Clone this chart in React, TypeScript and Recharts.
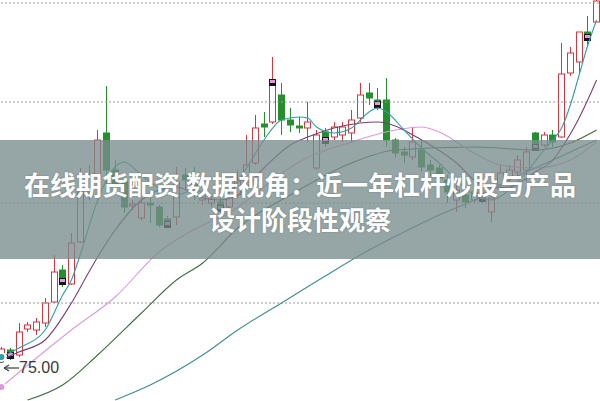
import React from 'react';
import { ComposedChart, Bar, Line, XAxis, YAxis, ReferenceLine } from 'recharts';

// Daily candles (price units), index 0..68
const openP = [75.3, 76.0, 75.5, 78.1, 78.0, 78.7, 80.8, 84.0, 82.6, 86.8, 91.8, 93.5, 97.7, 94.0, 92.8, 90.4, 89.2, 90.7, 90.3, 89.1, 89.3, 93.5, 92.7, 91.0, 90.7, 90.8, 90.3, 91.5, 92.8, 94.7, 98.6, 98.8, 101.5, 99.0, 98.4, 98.2, 94.2, 97.8, 97.3, 97.5, 97.7, 99.2, 101.7, 101.0, 101.0, 97.0, 95.8, 95.3, 96.0, 94.5, 94.2, 93.0, 91.0, 91.5, 91.0, 91.7, 89.8, 92.5, 93.2, 93.8, 94.0, 97.7, 96.5, 97.5, 97.3, 103.7, 104.8, 107.8, 108.8];
const closeP = [76.1, 75.5, 77.8, 78.5, 78.8, 80.7, 83.8, 82.9, 86.7, 91.8, 93.5, 97.0, 94.0, 92.5, 90.3, 90.6, 90.7, 90.5, 88.5, 88.6, 92.8, 93.0, 92.2, 91.4, 91.1, 90.2, 91.5, 93.0, 94.5, 98.2, 98.3, 102.8, 99.0, 98.5, 98.2, 98.8, 97.5, 97.0, 98.3, 98.3, 99.0, 101.5, 101.2, 100.6, 97.0, 95.7, 95.5, 96.8, 94.3, 94.0, 93.2, 91.8, 92.0, 90.8, 91.8, 91.2, 91.2, 93.7, 94.0, 95.0, 95.8, 96.3, 97.5, 96.8, 103.6, 105.7, 107.8, 107.3, 110.9];
const highP = [76.3, 76.2, 78.7, 78.8, 79.2, 81.2, 85.5, 84.5, 87.7, 94.2, 94.5, 98.0, 102.4, 95.0, 93.3, 91.0, 91.2, 91.2, 90.5, 89.4, 94.3, 94.2, 94.3, 91.8, 91.4, 91.2, 92.0, 94.0, 97.5, 99.5, 99.8, 105.3, 102.7, 100.2, 99.3, 100.8, 98.0, 98.2, 98.8, 98.8, 100.0, 102.7, 102.7, 102.2, 103.2, 97.2, 96.3, 98.3, 97.0, 95.0, 94.5, 93.5, 92.5, 92.2, 92.5, 92.0, 92.0, 94.5, 94.5, 95.5, 96.3, 97.8, 97.8, 98.0, 106.7, 106.3, 107.8, 109.4, 111.5];
const lowP = [75.1, 75.0, 75.3, 77.8, 77.5, 78.3, 80.7, 82.3, 82.5, 86.7, 91.0, 93.0, 92.0, 91.7, 89.7, 90.0, 89.0, 88.7, 88.3, 88.4, 88.5, 92.0, 91.0, 90.5, 90.3, 89.6, 89.8, 91.2, 92.5, 94.5, 97.3, 98.6, 97.5, 97.8, 97.7, 96.8, 94.0, 96.3, 97.0, 96.8, 96.7, 98.8, 100.5, 100.0, 96.3, 95.3, 94.7, 95.0, 93.8, 93.4, 92.7, 90.7, 89.8, 90.2, 90.7, 90.7, 88.8, 92.0, 92.5, 93.2, 92.8, 96.0, 96.3, 96.3, 97.2, 103.4, 103.7, 106.3, 108.8];

// candles carrying the small square marker
const markIdx = [1, 7, 19, 25, 31, 37, 43, 55, 61, 67];

// moving averages: [candle index, value]
const ma5Pts: [number, number][] = [[0, 75.3], [2, 76.2], [5, 78.0], [7, 81.5], [8, 83.0], [9, 85.5], [11, 91.0], [12, 93.0], [13, 94.3], [14, 94.8], [16, 93.5], [18, 92.2], [20, 91.5], [22, 92.0], [24, 91.5], [26, 91.8], [28, 94.2], [30, 97.0], [32, 99.0], [34, 99.3], [35, 99.2], [36, 98.3], [38, 97.7], [40, 98.2], [42, 99.8], [43, 100.2], [44, 99.8], [46, 98.0], [48, 96.2], [50, 94.7], [52, 93.0], [54, 91.5], [56, 91.0], [58, 92.0], [60, 93.8], [62, 96.0], [63, 97.0], [64, 98.2], [65, 100.5], [66, 103.5], [67, 106.5], [68, 109.0]];
const ma10Pts: [number, number][] = [[0, 75.0], [2, 75.8], [5, 77.0], [8, 80.7], [10, 83.8], [11, 85.3], [13, 88.0], [16, 91.0], [18, 92.0], [20, 92.3], [23, 91.2], [25, 91.0], [27, 91.5], [30, 94.2], [33, 96.5], [35, 97.3], [38, 98.2], [41, 98.7], [43, 98.8], [45, 98.4], [47, 97.5], [49, 96.5], [52, 94.7], [54, 93.0], [56, 92.2], [58, 92.3], [61, 93.8], [63, 95.0], [64, 96.2], [66, 99.2], [68, 103.0]];
const ma20Pts: [number, number][] = [[0, 72.3], [8, 78.0], [13, 81.3], [18, 85.8], [23, 88.5], [26, 89.7], [31, 93.0], [34, 94.8], [40, 96.8], [45, 98.0], [48, 98.3], [50, 97.8], [54, 95.7], [57, 94.5], [61, 94.2], [65, 95.0], [68, 96.8]];
const ma30Pts: [number, number][] = [[3, 71.0], [7, 72.5], [11, 75.5], [16, 79.7], [20, 83.0], [23, 84.7], [27, 88.2], [33, 91.5], [40, 94.7], [45, 96.0], [54, 96.3], [61, 96.0], [65, 96.7], [68, 98.0]];
const ma60Pts: [number, number][] = [[13, 71.0], [17, 72.5], [23, 75.5], [27, 78.0], [32, 80.7], [37, 83.4], [42, 86.0], [46, 87.8], [50, 89.5], [54, 91.0], [58, 93.0], [63, 95.0], [68, 97.0]];

const gridPrices = [110.7, 100.8, 90.7, 80.7];
const minLabel = '75.00';
const titleLine1 = '在线期货配资 数据视角：近一年杠杆炒股与产品';
const titleLine2 = '设计阶段性观察';

const RED = '#d8353f';
const GREEN = '#23902d';

const data: any[] = openP.map((o, i) => ({
  i,
  o,
  c: closeP[i],
  h: highP[i],
  l: lowP[i],
  mark: markIdx.includes(i),
}));
const addMa = (pts: [number, number][], key: string) => {
  pts.forEach(([idx, v]) => {
    data[idx][key] = v;
  });
};
addMa(ma5Pts, 'ma5');
addMa(ma10Pts, 'ma10');
addMa(ma20Pts, 'ma20');
addMa(ma30Pts, 'ma30');
addMa(ma60Pts, 'ma60');

function Candle(props: any) {
  const { x, y, width, height, payload } = props;
  if (!payload || x == null) return null;
  const { o, c, h, l, mark } = payload;
  const top = Math.min(y, y + height);
  const bot = Math.max(y, y + height);
  const span = h - l || 1;
  const yOf = (p: number) => top + ((h - p) / span) * (bot - top);
  const cx = Math.round(x + width / 2) + 0.5;
  const up = c >= o;
  const color = up ? RED : GREEN;
  const bt = yOf(Math.max(o, c));
  const bb = yOf(Math.min(o, c));
  const bh = Math.max(1, bb - bt);
  const left = cx - width / 2;
  const yc = yOf(c);
  return (
    <g>
      <line x1={cx} x2={cx} y1={top} y2={bot} stroke={color} strokeWidth={1} />
      <rect x={left} y={bt} width={width} height={bh} fill={up ? '#fff' : color} stroke={color} strokeWidth={1} />
      {mark && (
        <g>
          <rect x={cx - 3.5} y={yc - 3} width={7} height={7} fill="#151515" />
          <rect x={cx - 2.5} y={yc - 2} width={5} height={3} fill="#e29be2" />
        </g>
      )}
    </g>
  );
}

export default function App() {
  return (
    <div style={{ position: 'absolute', left: 0, top: 0, width: 600, height: 401, overflow: 'hidden', background: '#fff' }}>
      <div style={{ position: 'absolute', left: -3, top: 0 }}>
        <ComposedChart width={604} height={401} data={data} margin={{ top: 0, right: 0, bottom: 0, left: 0 }}>
          <XAxis dataKey="i" type="category" hide />
          <YAxis hide type="number" domain={[70.9, 111]} allowDataOverflow />
          {gridPrices.map((p) => (
            <ReferenceLine key={p} y={p} stroke="#9a9a9a" strokeDasharray="2 2" strokeWidth={1} />
          ))}
          <Bar dataKey={(d: any) => [d.l, d.h]} barSize={6} shape={(p: any) => <Candle {...p} />} isAnimationActive={false} />
          <Line type="monotone" dataKey="ma60" stroke="#3f8d8d" strokeWidth={1.1} dot={false} connectNulls isAnimationActive={false} />
          <Line type="monotone" dataKey="ma30" stroke="#3d6e3d" strokeWidth={1.1} dot={false} connectNulls isAnimationActive={false} />
          <Line type="monotone" dataKey="ma20" stroke="#dc9adc" strokeWidth={1.1} dot={false} connectNulls isAnimationActive={false} />
          <Line type="monotone" dataKey="ma10" stroke="#7a3f72" strokeWidth={1.1} dot={false} connectNulls isAnimationActive={false} />
          <Line type="monotone" dataKey="ma5" stroke="#2f9fa0" strokeWidth={1.1} dot={false} connectNulls isAnimationActive={false} />
        </ComposedChart>
      </div>
      <div
        style={{
          position: 'absolute',
          left: 3,
          top: 360,
          fontFamily: '"Liberation Sans", Arial, sans-serif',
          fontSize: 16,
          lineHeight: '16px',
          color: '#3a3a3a',
          whiteSpace: 'nowrap',
          display: 'flex',
          alignItems: 'center',
        }}
      >
        <svg width={16} height={10} style={{ marginRight: 0 }}>
          <line x1={1} y1={5} x2={16} y2={5} stroke="#3a3a3a" strokeWidth={1.2} />
          <path d="M1 5 L6 2 M1 5 L6 8" stroke="#3a3a3a" strokeWidth={1.2} fill="none" />
        </svg>
        <span>{minLabel}</span>
      </div>
      <div
        style={{
          position: 'absolute',
          left: 0,
          top: 140,
          width: 600,
          height: 119,
          background: 'rgba(120,140,140,0.78)',
          color: '#fff',
          fontFamily: '"Noto Sans CJK SC", "Noto Sans", sans-serif',
          fontWeight: 700,
          fontSize: 26,
          lineHeight: '35px',
          textAlign: 'center',
          paddingTop: 26,
          boxSizing: 'border-box',
          textShadow: '0 0 2px rgba(0,0,0,0.25)',
        }}
      >
        <div>{titleLine1}</div>
        <div>{titleLine2}</div>
      </div>
    </div>
  );
}
